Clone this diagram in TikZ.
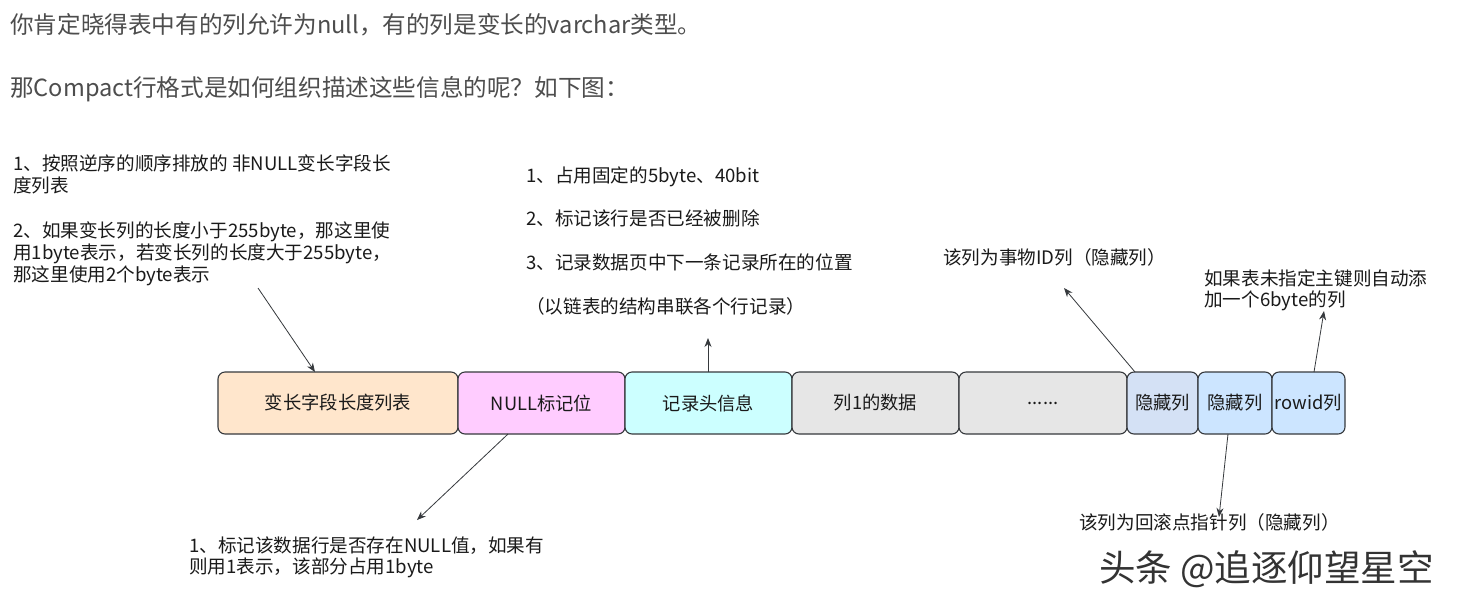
\documentclass[tikz,border=0pt]{standalone}
\usepackage{fontspec}
\setmainfont{Noto Sans CJK SC}
\usetikzlibrary{arrows.meta}
\definecolor{cpeach}{HTML}{FFE6CC}
\definecolor{cpink}{HTML}{FFCCFF}
\definecolor{ccyan}{HTML}{CCFFFF}
\definecolor{cgray}{HTML}{E6E6E6}
\definecolor{cslate}{HTML}{D4E1F5}
\definecolor{cblue}{HTML}{CCE5FF}
\definecolor{cline}{HTML}{36393D}
\definecolor{ctop}{HTML}{4D4D4D}
\definecolor{cnote}{HTML}{1A1A1A}
\begin{document}
\begin{tikzpicture}[x=1pt,y=-1pt,
  cell/.style={draw=cline, line width=1.1pt, rounded corners=7pt, minimum height=62pt, inner sep=0pt,
    font=\fontsize{18.3}{20}\selectfont, text=cnote},
  note/.style={anchor=base west, inner sep=0pt, font=\fontsize{18.6}{20}\selectfont, text=cnote},
  toptext/.style={anchor=base west, inner sep=0pt, font=\fontsize{23.6}{26}\selectfont, text=ctop},
  arr/.style={draw=cline, line width=0.8pt, -{Stealth[length=9pt,width=7pt]}}]
\useasboundingbox[fill=white] (0,0) rectangle (1458,595);

% top paragraph text
\node[toptext] (t1) at (10,33) {你肯定晓得表中有的列允许为null，有的列是变长的varchar类型。};
\node[toptext] (t2) at (10,96) {那Compact行格式是如何组织描述这些信息的呢？如下图：};

% row of cells
\node[cell, fill=cpeach, minimum width=240pt] (b1) at (338,403) {变长字段长度列表};
\node[cell, fill=cpink,  minimum width=167pt] (b2) at (541.5,403) {NULL标记位};
\node[cell, fill=ccyan,  minimum width=167pt] (b3) at (708.5,403) {记录头信息};
\node[cell, fill=cgray,  minimum width=167pt] (b4) at (875.5,403) {列1的数据};
\node[cell, fill=cgray,  minimum width=168pt] (b5) at (1043,403) {......};
\node[cell, fill=cslate, minimum width=71pt] (b6) at (1162.5,403) {隐藏列};
\node[cell, fill=cblue,  minimum width=74pt] (b7) at (1235,403) {隐藏列};
\node[cell, fill=cblue,  minimum width=73pt] (b8) at (1308.5,403) {rowid列};

% annotation: variable length list
\node[note] (a1l1) at (13,170) {1、按照逆序的顺序排放的 非NULL变长字段长};
\node[note] (a1l2) at (13,192) {度列表};
\node[note] (a1l3) at (13,237) {2、如果变长列的长度小于255byte，那这里使};
\node[note] (a1l4) at (13,259) {用1byte表示，若变长列的长度大于255byte，};
\node[note] (a1l5) at (13,281) {那这里使用2个byte表示};

% annotation: record header
\node[note] (a2l1) at (526,182) {1、占用固定的5byte、40bit};
\node[note] (a2l2) at (526,225) {2、标记该行是否已经被删除};
\node[note] (a2l3) at (526,269) {3、记录数据页中下一条记录所在的位置};
\node[note] (a2l4) at (526,313) {（以链表的结构串联各个行记录）};

% annotation: transaction id
\node[note] (a3) at (943,264) {该列为事物ID列（隐藏列）};

% annotation: rowid
\node[note] (a4l1) at (1204,285) {如果表未指定主键则自动添};
\node[note] (a4l2) at (1204,306) {加一个6byte的列};

% annotation: null flags
\node[note] (a5l1) at (189,552) {1、标记该数据行是否存在NULL值，如果有};
\node[note] (a5l2) at (189,573) {则用1表示，该部分占用1byte};

% annotation: roll pointer
\node[note] (a6) at (1079,529) {该列为回滚点指针列（隐藏列）};

% watermark
\node[anchor=base west, inner sep=0pt, font=\fontsize{36.5}{38}\selectfont, text=black!80] (wm) at (1099,581) {头条 @追逐仰望星空};

% connector end points
\coordinate (p1) at (258,288);
\coordinate (q1) at (315,372);
\coordinate (q2) at (708,372);
\coordinate (p2) at (708,338);
\coordinate (q3) at (1135,372);
\coordinate (p3) at (1064,288);
\coordinate (q4) at (1314,372);
\coordinate (p4) at (1324,311);
\coordinate (q5) at (508,434);
\coordinate (p5) at (417,520);
\coordinate (q6) at (1228,434);
\coordinate (p6) at (1219,517);

\draw[arr] (p1) -- (q1);
\draw[arr] (q2) -- (p2);
\draw[arr] (q3) -- (p3);
\draw[arr] (q4) -- (p4);
\draw[arr] (q5) -- (p5);
\draw[arr] (q6) -- (p6);
\end{tikzpicture}
\end{document}
